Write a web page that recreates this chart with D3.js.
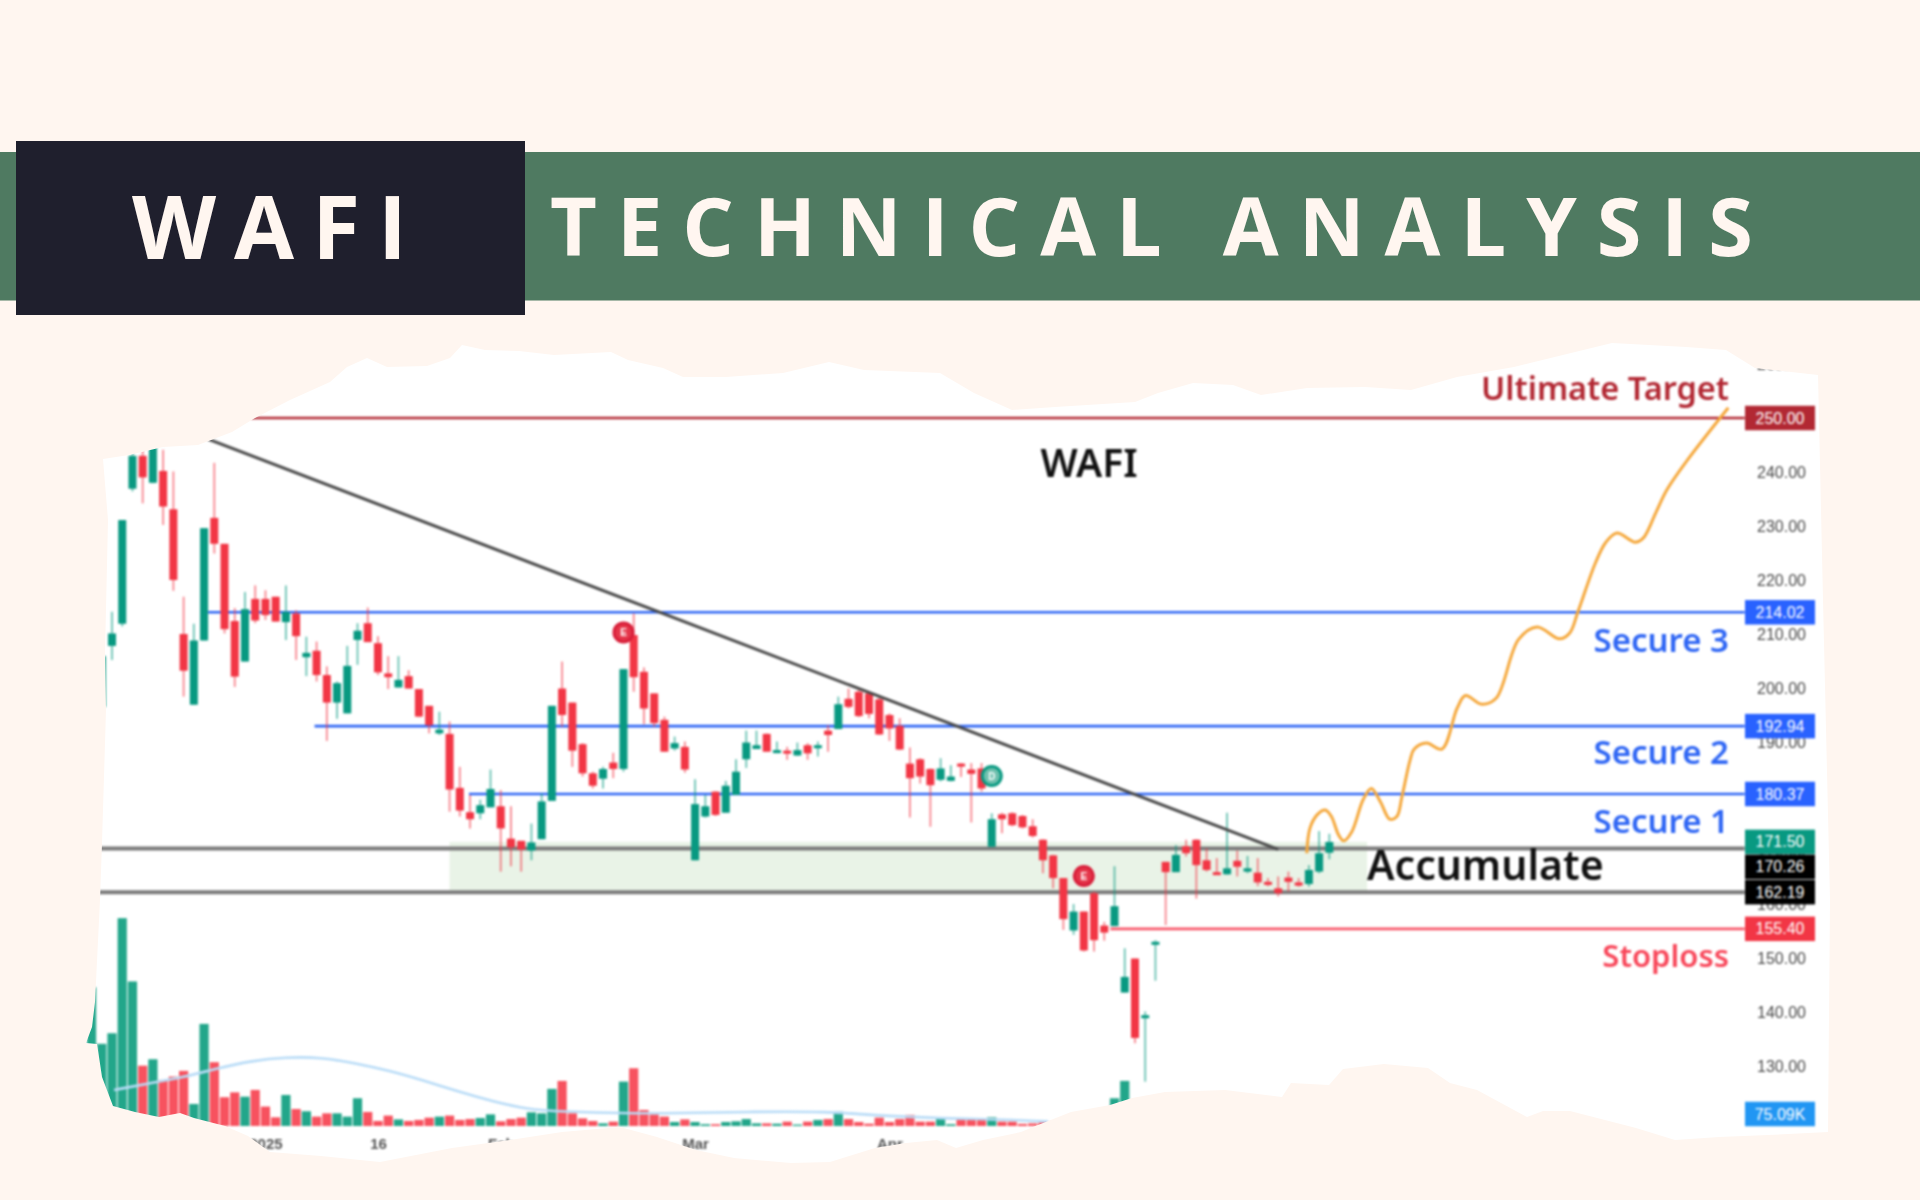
<!DOCTYPE html>
<html>

<head>
  <title>WAFI Technical Analysis</title>
  <script src="https://d3js.org/d3.v7.min.js"></script>
  <style>
    html, body { margin: 0; background: #fff6f0; }
    svg { display: block; }
  </style>
</head>

<body>
  <svg width="1920" height="1200"></svg>

  <script>
    // candles start two sessions before the first visible one (torn off on the left)
    var firstCandle = -2;
    var opens = [190, 196.5, 207.8, 211.9, 236.9, 243, 238, 240.2, 233.1, 210, 196.9, 208.8, 231.5, 226.7, 212.4, 204.9, 216.5, 216.5, 216.9, 212.2, 213.8, 205.7, 206.9, 202.4, 197.3, 195.3, 208.9, 212, 208.3, 202.7, 200.1, 202.2, 199.8, 196.7, 191.6, 191.5, 181.5, 177, 176.8, 177.9, 178.1, 172.1, 171.7, 169.9, 172, 179.1, 199.9, 197.3, 189.6, 184.2, 183.2, 186.2, 185, 209.8, 203, 199, 194.1, 188.8, 189.1, 168.1, 176.2, 180.8, 176.9, 180.2, 186.8, 188.7, 191.5, 188.1, 188.4, 187.5, 189.4, 189, 192.1, 192.4, 198, 199.3, 199, 197.9, 195, 193, 186, 186.8, 185, 183, 182.8, 186, 184.9, 185.1, 170.6, 176.6, 176.8, 176.3, 174.4, 171.9, 169, 164.8, 155.1, 158.6, 162, 156, 155.9, 143.6, 149.9, 139.1, 152.8, 167.8, 165.9, 170.7, 171.9, 168.1, 165.9, 165.5, 168, 166, 165.8, 164.1, 162.9, 164.9, 164, 163.7, 166, 169.5];
    var closes = [200, 205.9, 210.1, 231.1, 243, 239, 246.5, 233.6, 220, 203.2, 208.8, 229.6, 226.7, 210.9, 202.1, 214.6, 212.5, 213.5, 212.3, 214.1, 209.6, 206.5, 202.4, 197.3, 200.9, 204.1, 210.6, 208.5, 202.9, 202, 201.5, 199.9, 194.7, 193.1, 192.3, 181.2, 177.3, 175.7, 178.3, 181.3, 174, 170.5, 170.1, 171.4, 179, 196.7, 195, 188.4, 184.2, 181.9, 185, 185, 203.5, 202, 196.2, 193.5, 188.2, 189.8, 184.9, 178.5, 178.1, 176.5, 181.9, 184.5, 189.9, 189.4, 188.2, 188.5, 188, 188.5, 187.9, 189.4, 191.3, 197, 196.5, 194.8, 195.2, 191.4, 192.5, 188.6, 183.3, 183.6, 182, 185.1, 183.6, 185.6, 184.1, 181.4, 175.7, 175.7, 174.6, 174.2, 172.6, 168.1, 164.8, 157.2, 158.6, 151.4, 153.3, 154.7, 159.6, 146.5, 135.2, 139.4, 153, 165.9, 169.1, 169.4, 167.2, 166.3, 165.5, 166.6, 166.9, 166.6, 164, 163.7, 162, 164.1, 163.4, 166.3, 169.4, 171.5];
    var highs = [202, 207, 214.1, 231.1, 244.4, 244.1, 247.5, 244.1, 240.1, 216.9, 211.9, 229.6, 241.7, 226.7, 214.8, 217.8, 219, 218.1, 216.9, 219, 214.4, 209.5, 208.6, 204, 201.2, 207.8, 212, 214.9, 209.6, 205.9, 205.9, 203.3, 199.8, 196.7, 195.6, 193.8, 185.4, 180.2, 179.3, 184.9, 181.1, 178.1, 171.7, 174.9, 180.5, 196.7, 204.9, 197.3, 189.8, 184.5, 185.4, 188, 203.5, 213.8, 203.8, 199, 194.7, 191, 190.1, 183.1, 180.2, 180.9, 182.8, 186.8, 192.1, 192.1, 191.6, 190.1, 189.1, 189.9, 189.8, 190.1, 193.1, 198.4, 199.9, 199.8, 199.3, 198.4, 195.3, 194.4, 189, 187, 185.1, 187, 185.7, 186.1, 186.1, 186.1, 176.8, 176.9, 177, 176.5, 175.7, 172, 169.1, 164.8, 160, 158.6, 162.3, 156.7, 167, 151.8, 149.9, 140.1, 153.3, 167.8, 170.9, 171.9, 172, 170.3, 168.5, 176.9, 169.9, 168.9, 168.5, 164.8, 165.1, 166, 164.8, 167.2, 173.5, 173];
    var lows = [188, 196, 205.2, 211.4, 236.4, 234.2, 237.9, 230.2, 218, 198.4, 196.9, 208.8, 224.9, 210.1, 200.2, 204.9, 212, 212.6, 212.3, 208.9, 205.2, 202.2, 201.2, 190.2, 194.3, 195.3, 204.3, 208.5, 202.4, 199.8, 200.1, 199.9, 194.6, 191.6, 191.3, 177.1, 176.2, 174, 175.7, 177.9, 166, 167, 166, 168.1, 172, 179.1, 192.8, 185.4, 183.6, 181.4, 181.4, 183.3, 184.5, 199.3, 193.3, 192.8, 188.2, 188.4, 184.3, 168.1, 176, 176.3, 176.9, 180.2, 185.2, 188.7, 188.2, 187.9, 186.7, 187.4, 186.7, 187.3, 188.2, 192.4, 196.2, 194.6, 194.4, 191.3, 190.2, 188.5, 176, 182.3, 174.3, 182.7, 182.7, 183.5, 175.1, 180.8, 170.6, 173.1, 174.4, 174, 172.3, 165.7, 162.9, 155.2, 154.3, 151.2, 151.2, 153.2, 155.9, 143.6, 134.2, 127.1, 145.8, 156.1, 165.9, 168.8, 161, 166, 165.4, 165.4, 165.1, 165.7, 163.3, 163.3, 161.4, 162.3, 163.2, 163.2, 165.7, 168.3];

    // volume in thousands, same start as the candles
    var volumes = [800, 474, 535, 1199, 834, 348, 385, 266, 285, 318, 127, 589, 368, 166, 194, 169, 208, 112, 50, 179, 98, 85, 54, 73, 73, 54, 160, 81, 29, 60, 38, 29, 35, 48, 54, 60, 35, 40, 46, 67, 27, 40, 48, 79, 73, 214, 260, 73, 44, 29, 15, 25, 256, 333, 92, 67, 54, 23, 38, 23, 10, 10, 23, 27, 40, 15, 15, 13, 25, 8, 25, 35, 40, 83, 40, 23, 13, 48, 23, 40, 64, 25, 25, 44, 10, 38, 35, 35, 50, 25, 25, 12, 15, 20, 20, 20, 20, 20, 20, 20, 160, 260];
    var volumeMaAt = [0.2, 3.6, 7, 10.3, 13.7, 17, 20.4, 23.8, 27.1, 30.5, 33.9, 37.3, 40.6, 44, 49.7, 55.2, 62.7, 70.1, 73.9, 77.6, 81.4, 88.8, 91.5];
    var volumeMa = [208, 246, 281, 333, 377, 397, 397, 362, 320, 262, 198, 141, 96, 83, 73, 73, 83, 83, 64, 54, 44, 35, 25];

    var priceTicks = [130, 140, 150, 160, 170, 180, 190, 200, 210, 220, 230, 240, 250, 260];
    var dateTicks = [15, 26, 38, 57, 76];
    var dateLabels = ["2025", "16", "Feb", "Mar", "Apr"];

    var levelValues = [250, 214.02, 192.94, 180.37, 170.26, 162.19, 155.40];
    var levelStarts = [13.6, 9.4, 19.8, 34.9, -1.3, -1.3, 97.6];
    var tagValues = [250, 214.02, 192.94, 180.37, 171.50, 170.26, 162.19, 155.40];
    var zoneTop = 171.5, zoneBottom = 162.19, zoneFrom = 33, zoneTo = 122.7;

    var trendAt = [9.4, 114];
    var trendPrice = [246.1, 170.1];

    var projectionAt = [116.8, 117.1, 117.8, 118.6, 119.2, 119.9, 120.4, 121.2, 122.3, 123.1, 124, 124.9, 125.6, 126.1, 126.9, 127.3, 128.5, 130, 131.5, 132.3, 133.9, 135.3, 137.5, 139.3, 141.5, 142.5, 143.3, 145, 146, 147.1, 148.9, 149.7, 150.9, 152, 154, 158];
    var projectionPrice = [169.4, 174, 176.5, 177.4, 176.2, 172.8, 171.7, 173.4, 179.3, 181.4, 178.9, 175.7, 176.2, 179.9, 186.7, 188.7, 189.8, 188.7, 196.3, 198.6, 197, 198.1, 209, 211.3, 209.1, 210.2, 214.1, 223.1, 226.9, 228.7, 227, 227.8, 232.4, 236.7, 242.2, 251.9];

    var eventAt = [50, 86, 95];
    var eventPrice = [210.3, 183.7, 165.2];
    var eventLetters = ["E", "D", "E"];

    var levelColors = ["#b22833", "#2f66f4", "#2f66f4", "#2f66f4", "#7b7b7b", "#7b7b7b", "#f8586a"];
    var tagColors = ["#b22833", "#2962ff", "#2962ff", "#2962ff", "#089981", "#000000", "#000000", "#f23645"];

    // torn paper outline, clockwise from top left, page pixels
    var tornEdge = [[103, 459], [129, 455], [163, 447], [198, 445], [232, 432], [255, 418], [290, 400], [330, 382], [347, 367], [367, 358], [387, 367], [427, 366], [450, 358], [462, 345], [485, 350], [519, 351], [554, 355], [611, 352], [628, 360], [663, 368], [683, 377], [726, 377], [783, 373], [829, 362], [864, 370], [915, 372], [940, 373], [974, 393], [1012, 410], [1055, 407], [1135, 402], [1158, 393], [1193, 383], [1233, 385], [1261, 395], [1307, 388], [1365, 387], [1411, 390], [1457, 377], [1514, 367], [1571, 353], [1612, 343], [1686, 347], [1726, 350], [1755, 368], [1818, 375], [1823, 600], [1830, 900], [1828, 1132], [1768, 1135], [1719, 1137], [1675, 1140], [1636, 1128], [1570, 1111], [1543, 1111], [1527, 1117], [1477, 1090], [1450, 1083], [1428, 1068], [1384, 1064], [1343, 1069], [1329, 1085], [1291, 1083], [1282, 1097], [1225, 1090], [1165, 1092], [1132, 1098], [1110, 1105], [1071, 1112], [1033, 1127], [1021, 1132], [983, 1140], [956, 1148], [937, 1140], [906, 1143], [875, 1148], [830, 1162], [791, 1163], [734, 1158], [696, 1150], [657, 1137], [620, 1127], [562, 1132], [510, 1140], [452, 1148], [380, 1162], [321, 1156], [270, 1152], [248, 1136], [225, 1126], [194, 1118], [180, 1113], [159, 1117], [135, 1112], [113, 1106], [102, 1077], [99, 1057], [97, 1044], [86, 1043], [92, 1027], [95, 1002], [100, 900], [102, 843], [106, 710], [105, 653], [108, 520]];

    var svg = d3.select("svg");

    // scales
    var x = d3.scaleLinear().domain([0, 158]).range([112, 1728.3]);
    var y = d3.scaleLinear().domain([130, 250]).range([1066, 418]);
    var yVol = d3.scaleLinear().domain([0, 1200]).range([1126, 918]);

    var cream = "#fff6f0";
    var up = "#089981", down = "#f23645";

    // header band
    svg.append("rect").attr("x", 0).attr("y", 152).attr("width", 1920).attr("height", 148.5).attr("fill", "#4f7a61");
    svg.append("rect").attr("x", 16).attr("y", 141).attr("width", 509).attr("height", 174).attr("fill", "#1f1f2d");
    svg.append("text").text("WAFI")
      .attr("x", 132).attr("y", 259)
      .style("font", "700 87px 'Open Sans'").style("letter-spacing", "18px").attr("fill", cream);
    svg.append("text").text("TECHNICAL ANALYSIS")
      .attr("x", 550).attr("y", 256)
      .style("font", "700 81px 'Open Sans'").style("letter-spacing", "20px").attr("fill", cream);

    // paper
    var tornPath = d3.line()(tornEdge) + "Z";
    svg.append("clipPath").attr("id", "torn").append("path").attr("d", tornPath);
    svg.append("path").attr("d", tornPath).attr("fill", "#ffffff");

    var chart = svg.append("g").attr("clip-path", "url(#torn)")
      .append("g").style("filter", "blur(0.9px)");

    // accumulate zone
    chart.append("rect")
      .attr("x", x(zoneFrom)).attr("width", x(zoneTo) - x(zoneFrom))
      .attr("y", y(zoneTop)).attr("height", y(zoneBottom) - y(zoneTop))
      .attr("fill", "#e9f3e7");

    // horizontal levels
    chart.selectAll(".level").data(levelValues).join("line")
      .attr("class", "level")
      .attr("x1", function (d, i) { return x(levelStarts[i]); })
      .attr("x2", x(159.6))
      .attr("y1", function (d) { return y(d); })
      .attr("y2", function (d) { return y(d); })
      .attr("stroke", function (d, i) { return levelColors[i]; })
      .attr("stroke-width", function (d, i) { return i == 4 || i == 5 ? 4 : 2.6; });

    // volume
    var slots = d3.range(firstCandle, firstCandle + opens.length);
    function isUp(i) { return closes[i] >= opens[i]; }

    chart.selectAll(".vol").data(volumes).join("rect")
      .attr("class", "vol")
      .attr("x", function (d, i) { return x(slots[i]) - 4.6; })
      .attr("width", 9.2)
      .attr("y", function (d) { return yVol(d); })
      .attr("height", function (d) { return yVol(0) - yVol(d); })
      .attr("fill", function (d, i) { return isUp(i) ? "#22a68a" : "#f7525f"; });

    var maLine = d3.line()
      .x(function (d, i) { return x(volumeMaAt[i]); })
      .y(function (d) { return yVol(d); })
      .curve(d3.curveBasis);
    chart.append("path").attr("d", maLine(volumeMa))
      .attr("fill", "none").attr("stroke", "#b9dcf7").attr("stroke-width", 2.6);

    // candles
    chart.selectAll(".wick").data(slots).join("line")
      .attr("class", "wick")
      .attr("x1", function (d) { return x(d); })
      .attr("x2", function (d) { return x(d); })
      .attr("y1", function (d, i) { return y(highs[i]); })
      .attr("y2", function (d, i) { return y(lows[i]); })
      .attr("stroke", function (d, i) { return isUp(i) ? up : down; })
      .attr("stroke-opacity", 0.6)
      .attr("stroke-width", 1.8);

    chart.selectAll(".body").data(slots).join("rect")
      .attr("class", "body")
      .attr("x", function (d) { return x(d) - 4; })
      .attr("width", 8)
      .attr("y", function (d, i) { return y(Math.max(opens[i], closes[i])); })
      .attr("height", function (d, i) { return Math.max(3, Math.abs(y(opens[i]) - y(closes[i]))); })
      .attr("fill", function (d, i) { return isUp(i) ? up : down; });

    // trend line
    chart.append("line")
      .attr("x1", x(trendAt[0])).attr("y1", y(trendPrice[0]))
      .attr("x2", x(trendAt[1])).attr("y2", y(trendPrice[1]))
      .attr("stroke", "#4a4a4a").attr("stroke-width", 3);

    // projected path
    var projLine = d3.line()
      .x(function (d, i) { return x(projectionAt[i]); })
      .y(function (d) { return y(d); })
      .curve(d3.curveCatmullRom);
    chart.append("path").attr("d", projLine(projectionPrice))
      .attr("fill", "none").attr("stroke", "#f5a83c").attr("stroke-width", 3);

    // earnings / dividend markers
    var events = chart.selectAll(".event").data(eventLetters).join("g")
      .attr("class", "event")
      .attr("transform", function (d, i) { return "translate(" + x(eventAt[i]) + "," + y(eventPrice[i]) + ")"; });
    events.append("circle").attr("r", 9.5)
      .attr("fill", function (d) { return d == "D" ? "#6fc0ae" : "#e5364a"; })
      .attr("stroke", function (d) { return d == "D" ? "#089981" : "#d81f3a"; })
      .attr("stroke-width", 3);
    events.append("text").text(function (d) { return d; })
      .attr("text-anchor", "middle").attr("dy", 4)
      .attr("fill", "#fff").style("font", "700 10px 'Liberation Sans'");

    // annotations
    function note(label, px, py, size, color, anchor) {
      chart.append("text").text(label)
        .attr("x", px).attr("y", py)
        .attr("text-anchor", anchor || "end")
        .attr("fill", color)
        .style("font", "600 " + size + "px 'Noto Sans'");
    }
    note("Ultimate Target", 1729, 400, 32.5, "#b22833");
    note("Secure 3", 1729, 652, 33, "#2f66f4");
    note("Secure 2", 1729, 764, 33, "#2f66f4");
    note("Secure 1", 1729, 833, 33, "#2f66f4");
    note("Stoploss", 1729, 967, 31, "#f8475a");
    note("WAFI", 1089, 477, 39, "#111111", "middle");
    note("Accumulate", 1367, 880, 41, "#111111", "start");

    // price axis
    var priceAxis = d3.axisRight(y).tickValues(priceTicks).tickSize(0).tickPadding(0)
      .tickFormat(d3.format(".2f"));
    var priceG = chart.append("g").attr("transform", "translate(1757,0)").call(priceAxis);
    priceG.select(".domain").remove();
    priceG.selectAll("text").attr("fill", "#4a4a4a").style("font", "16px 'Liberation Sans'");

    // date axis
    var dateAxis = d3.axisBottom(x).tickValues(dateTicks).tickSize(0).tickPadding(0)
      .tickFormat(function (d, i) { return dateLabels[i]; });
    var dateG = chart.append("g").attr("transform", "translate(0,1138)").call(dateAxis);
    dateG.select(".domain").remove();
    dateG.selectAll("text").attr("fill", "#555").style("font", "600 15px 'Liberation Sans'");

    // value tags: a tag that would overlap the one above gets pushed down
    var tagH = 24.5, lastY = -100;
    var tagY = tagValues.map(function (v) {
      lastY = Math.max(y(v), lastY + tagH + 0.5);
      return lastY;
    });
    var tags = chart.selectAll(".tag").data(tagValues).join("g")
      .attr("class", "tag")
      .attr("transform", function (d, i) { return "translate(1745," + tagY[i] + ")"; });
    tags.append("rect")
      .attr("y", -tagH / 2).attr("width", 70).attr("height", tagH)
      .attr("fill", function (d, i) { return tagColors[i]; });
    tags.append("text").text(d3.format(".2f"))
      .attr("x", 35).attr("dy", 5.5).attr("text-anchor", "middle")
      .attr("fill", "#fff").style("font", "16px 'Liberation Sans'");

    // current volume tag
    var volTag = chart.append("g").attr("transform", "translate(1745,1114)");
    volTag.append("rect").attr("y", -tagH / 2).attr("width", 70).attr("height", tagH).attr("fill", "#2196f3");
    volTag.append("text").text("75.09K")
      .attr("x", 35).attr("dy", 5.5).attr("text-anchor", "middle")
      .attr("fill", "#fff").style("font", "16px 'Liberation Sans'");
  </script>

</body>

</html>
